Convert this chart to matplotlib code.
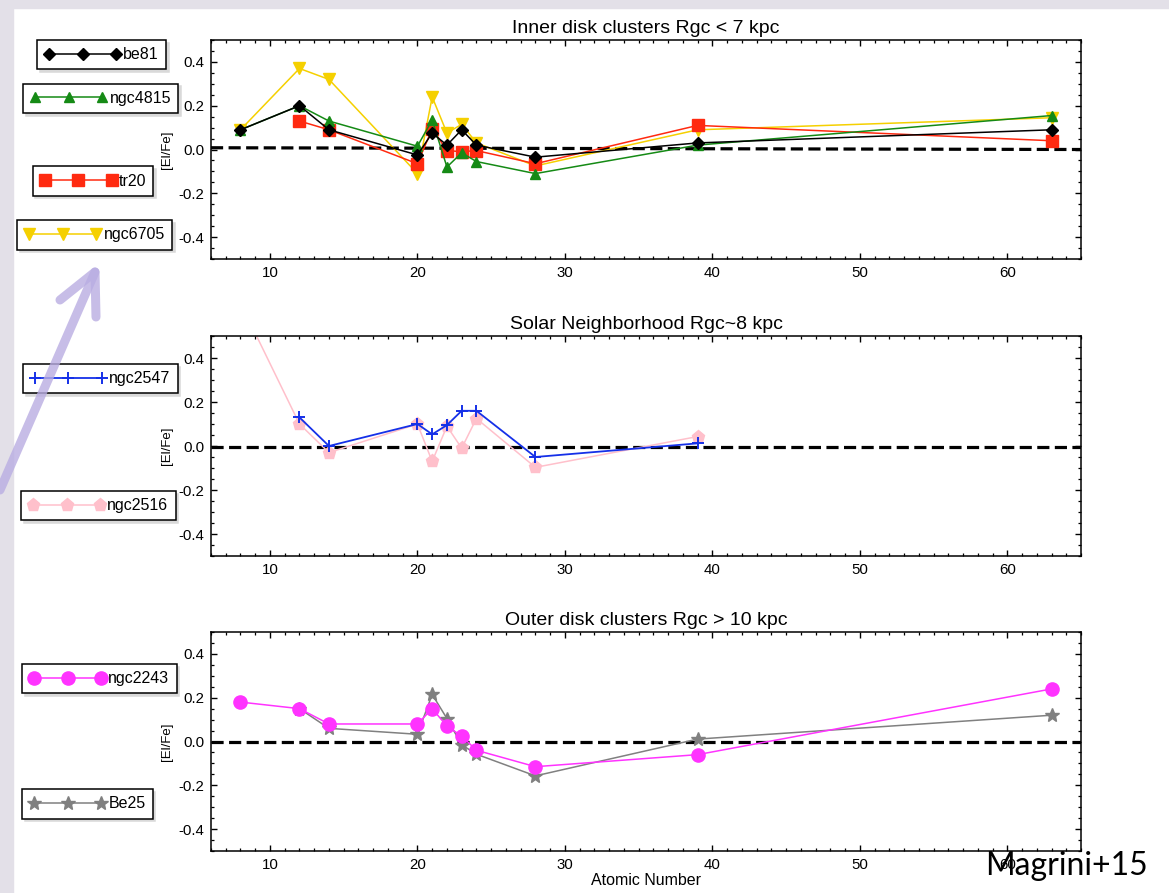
import numpy as np
import matplotlib
matplotlib.use('Agg')
import matplotlib.pyplot as plt
from matplotlib.ticker import MultipleLocator, FormatStrFormatter
from matplotlib.lines import Line2D
from matplotlib.patches import Rectangle

plt.rcParams['font.family'] = ['Liberation Sans', 'DejaVu Sans']
plt.rcParams['axes.unicode_minus'] = False

# inner disk clusters
be81_z = [8, 12, 14, 20, 21, 22, 23, 24, 28, 39, 63]
be81 = [0.09, 0.20, 0.09, -0.025, 0.075, 0.02, 0.09, 0.02, -0.035, 0.03, 0.09]
ngc4815_z = [8, 12, 14, 20, 21, 22, 23, 24, 28, 39, 63]
ngc4815 = [0.09, 0.20, 0.13, 0.015, 0.135, -0.08, -0.015, -0.055, -0.11, 0.02, 0.155]
tr20_z = [12, 14, 20, 21, 22, 23, 24, 28, 39, 63]
tr20 = [0.13, 0.09, -0.065, 0.095, -0.005, -0.01, -0.005, -0.065, 0.11, 0.04]
ngc6705_z = [8, 12, 14, 20, 21, 22, 23, 24, 28, 39, 63]
ngc6705 = [0.09, 0.37, 0.32, -0.11, 0.24, 0.075, 0.115, 0.03, -0.075, 0.09, 0.145]

# solar neighborhood
ngc2547_z = [12, 14, 20, 21, 22, 23, 24, 28, 39]
ngc2547 = [0.13, 0.0, 0.10, 0.053, 0.095, 0.16, 0.16, -0.05, 0.012]
ngc2516_z = [8, 12, 14, 20, 21, 22, 23, 24, 28, 39]
ngc2516 = [0.65, 0.10, -0.03, 0.10, -0.07, 0.09, -0.01, 0.125, -0.097, 0.043]

# outer disk clusters
ngc2243_z = [8, 12, 14, 20, 21, 22, 23, 24, 28, 39, 63]
ngc2243 = [0.18, 0.15, 0.08, 0.08, 0.15, 0.07, 0.025, -0.04, -0.115, -0.06, 0.24]
be25_z = [12, 14, 20, 21, 22, 23, 24, 28, 39, 63]
be25 = [0.15, 0.06, 0.033, 0.215, 0.105, -0.015, -0.058, -0.157, 0.011, 0.12]

# dashed reference lines (ends)
ref_x = [6, 65]
ref_top = [0.008, 0.0]
ref_mid = [-0.005, -0.005]
ref_bot = [0.0, 0.0]

titles = ['Inner disk clusters Rgc < 7 kpc', 'Solar Neighborhood Rgc~8 kpc',
          'Outer disk clusters Rgc > 10 kpc']

W, H = 1169, 893
fig = plt.figure(figsize=(W / 100, H / 100), dpi=100)

# slide background strips
bg = '#e3e0e8'
fig.add_artist(Rectangle((0, 0), 13 / W, 1, transform=fig.transFigure, color=bg, zorder=0))
fig.add_artist(Rectangle((0, 1 - 8 / H), 1, 8 / H, transform=fig.transFigure, color=bg, zorder=0))

def px(x, y):
    return x / W, 1 - y / H

left, right = 211, 1081
panels = [(40, 259), (336, 556), (632, 851)]
axes = []
for (top, bot) in panels:
    ax = fig.add_axes([left / W, (H - bot) / H, (right - left) / W, (bot - top) / H])
    ax.set_xlim(6, 65)
    ax.set_ylim(-0.5, 0.5)
    ax.xaxis.set_major_locator(MultipleLocator(10))
    ax.xaxis.set_minor_locator(MultipleLocator(1))
    ax.yaxis.set_major_locator(MultipleLocator(0.2))
    ax.yaxis.set_minor_locator(MultipleLocator(0.05))
    ax.yaxis.set_major_formatter(FormatStrFormatter('%.1f'))
    ax.tick_params(which='both', direction='in', top=True, right=True, labelsize=10.8, pad=5)
    ax.tick_params(which='major', length=4.3, width=1)
    ax.tick_params(which='minor', length=2.2, width=0.9)
    for s in ax.spines.values():
        s.set_linewidth(1.1)
    ax.set_ylabel('[El/Fe]', fontsize=9.5)
    ax.yaxis.set_label_coords(-0.044, 0.5)
    axes.append(ax)

lw = 1.1
ax1, ax2, ax3 = axes
ax1.set_title(titles[0], fontsize=14, pad=5)
ax1.plot(ref_x, ref_top, color='black', lw=2.3, dashes=(3.8, 1.7), zorder=1)
l_6705, = ax1.plot(ngc6705_z, ngc6705, color='#f5d000', lw=lw, marker='v', ms=8, label='ngc6705')
l_tr20, = ax1.plot(tr20_z, tr20, color='#ff2a10', lw=lw, marker='s', ms=8.5, label='tr20')
l_4815, = ax1.plot(ngc4815_z, ngc4815, color='#158a15', lw=lw, marker='^', ms=7.5, label='ngc4815')
l_be81, = ax1.plot(be81_z, be81, color='black', lw=lw, marker='D', ms=6.5, label='be81')

ax2.set_title(titles[1], fontsize=14, pad=5)
ax2.plot(ref_x, ref_mid, color='black', lw=2.3, dashes=(3.8, 1.7), zorder=1)
l_2516, = ax2.plot(ngc2516_z, ngc2516, color='#ffc0cb', lw=lw, marker='p', ms=9.5, label='ngc2516')
l_2547, = ax2.plot(ngc2547_z, ngc2547, color='#1530e8', lw=1.3, marker='+', ms=9, mew=1.4, label='ngc2547')

ax3.set_title(titles[2], fontsize=14, pad=5)
ax3.plot(ref_x, ref_bot, color='black', lw=2.3, dashes=(3.8, 1.7), zorder=1)
l_be25, = ax3.plot(be25_z, be25, color='#808080', lw=lw, marker='*', ms=10, label='Be25')
l_2243, = ax3.plot(ngc2243_z, ngc2243, color='#ff33ff', lw=lw, marker='o', ms=9.5, label='ngc2243')
ax3.set_xlabel('Atomic Number', fontsize=11.5, labelpad=1)

# legend boxes on the left, one per cluster
boxes = [(l_be81, 101.7, 54.7), (l_4815, 100.7, 98.3), (l_tr20, 93, 181), (l_6705, 94.7, 235),
         (l_2547, 100.3, 378.7), (l_2516, 98.3, 505.8), (l_2243, 99.3, 678.7), (l_be25, 87.3, 804)]
for h, cx, cy in boxes:
    leg = fig.legend(handles=[h], loc='center', bbox_to_anchor=px(cx, cy), numpoints=3,
                     handlelength=4.8, handletextpad=0.15, borderpad=0.45, fontsize=11.5,
                     fancybox=False, edgecolor='black', framealpha=1,
                     shadow={'color': '0.85', 'alpha': 1})
    leg.get_frame().set_linewidth(1.1)

# purple arrow
ac = '#b9ade2'
shaft = [(0, 490), (95, 272)]
arm1 = [(60, 300), (95, 272), (96, 317)]
for seg in (shaft, arm1):
    xs = [px(x, y)[0] for x, y in seg]
    ys = [px(x, y)[1] for x, y in seg]
    fig.add_artist(Line2D(xs, ys, transform=fig.transFigure, color=ac, lw=6.5,
                          alpha=0.8, solid_capstyle='round', solid_joinstyle='round', zorder=20))

fig.text(*px(985, 875), 'Magrini+15', fontsize=23, family=['Lato', 'DejaVu Sans'],
         va='baseline', ha='left', zorder=30)

fig.savefig('out.png', dpi=100)
